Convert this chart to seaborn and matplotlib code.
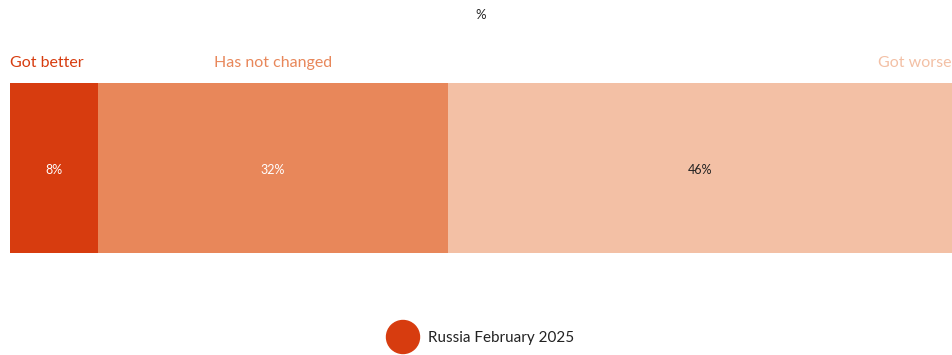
import matplotlib
matplotlib.use("Agg")
import matplotlib.pyplot as plt
import seaborn as sns
import pandas as pd
import numpy as np

categories = ["Got better", "Has not changed", "Got worse"]
values = [8, 32, 46]
value_labels = ["8%", "32%", "46%"]
series_name = "Russia February 2025"
colors = ["#D73C0F", "#E8875A", "#F3C0A5"]
label_colors = ["white", "white", "#222222"]

sns.set_theme(style="white")
plt.rcParams["font.family"] = ["Lato", "DejaVu Sans"]

fig = plt.figure(figsize=(9.52, 3.55), dpi=100)
ax = fig.add_axes([10 / 952, 1 - 253 / 355, 942 / 952, 170 / 355])

# stacked bar: overlay cumulative totals, widest first
cum = np.cumsum(values)
starts = cum - np.array(values)
for i in reversed(range(len(values))):
    df = pd.DataFrame({"row": [series_name], "total": [cum[i]]})
    sns.barplot(data=df, x="total", y="row", orient="h", color=colors[i],
                width=1.0, saturation=1, ax=ax, edgecolor="none")

ax.set_xlim(0, cum[-1])
ax.set_ylim(0.5, -0.5)
ax.axis("off")

for i, (s, v) in enumerate(zip(starts, values)):
    ax.text(s + v / 2, 0.01, value_labels[i], ha="center", va="center",
            fontsize=9, color=label_colors[i])

# category headers above their segments
header_y = -0.62
ax.text(starts[0], header_y, categories[0], ha="left", va="center",
        fontsize=11.5, color=colors[0], clip_on=False)
ax.text(starts[1] + values[1] / 2, header_y, categories[1], ha="center", va="center",
        fontsize=11.5, color=colors[1], clip_on=False)
ax.text(cum[2], header_y, categories[2], ha="right", va="center",
        fontsize=11.5, color=colors[2], clip_on=False)

fig.text(481 / 952, 1 - 15 / 355, "%", ha="center", va="center", fontsize=9.5, color="#222222")

# legend
fig.patches.append(matplotlib.patches.Ellipse((403 / 952, 1 - 337 / 355), 33 / 952, 33 / 355,
                                              transform=fig.transFigure, color=colors[0]))
fig.text(428 / 952, 1 - 338 / 355, series_name, ha="left", va="center",
         fontsize=11, color="#222222")

fig.savefig("out.png", dpi=100)
